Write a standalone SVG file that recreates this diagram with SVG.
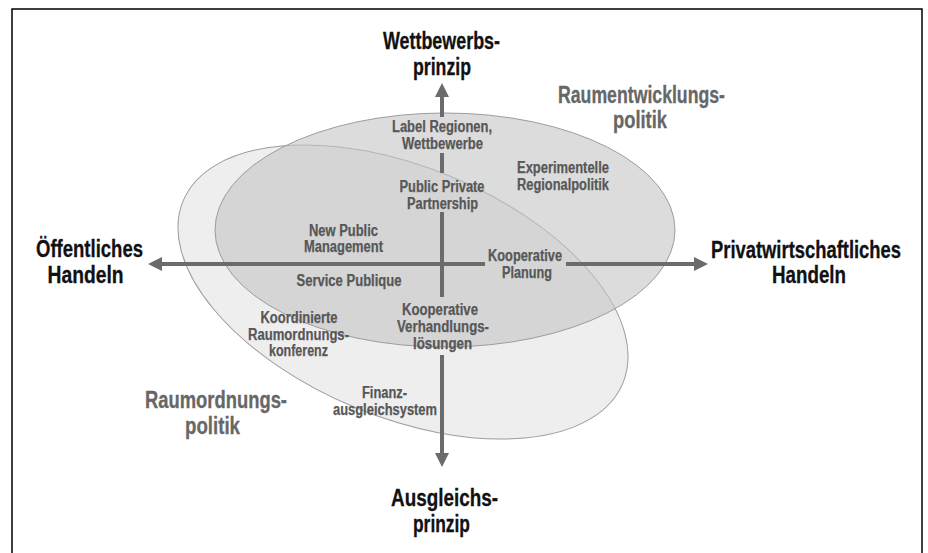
<svg xmlns="http://www.w3.org/2000/svg" width="928" height="553" viewBox="0 0 928 553">
<defs>
<style>
.frame{fill:#ffffff;stroke:#000000;stroke-width:1.5}
.ell{stroke:#9c9c9c;stroke-width:1}
.ax{stroke:#6b6b6b;stroke-width:4;fill:none}
.head{fill:#6b6b6b}
.t{font-family:"Liberation Sans Narrow","Liberation Sans",Arial,sans-serif;font-weight:bold;text-anchor:middle}
.lbl{font-size:16px;fill:#575757;stroke:#575757;stroke-width:0.25}
.big{font-size:23px;fill:#111111;stroke:#111111;stroke-width:0.3}
.pol{font-size:23px;fill:#676767;stroke:#676767;stroke-width:0.3}
</style>
</defs>
<rect class="frame" x="12" y="9" width="910" height="600"/>

<g id="raumordnungspolitik-area">
<ellipse class="ell" cx="403" cy="292" rx="238" ry="125" transform="rotate(22.5 403 292)" fill="#eeeeee"/>
</g>
<g id="raumentwicklungspolitik-area">
<ellipse class="ell" cx="445" cy="230" rx="230" ry="117" fill="#c4c4c4" fill-opacity="0.6"/>
</g>

<g id="connectors">
<path class="ax" d="M442 97V117M442 153V173M442 212V297M442 355V453"/>
<path class="ax" d="M162 264H485M566 264H694"/>
<polygon class="head" points="442,83 435,97 449,97"/>
<polygon class="head" points="442,467 435,453 449,453"/>
<polygon class="head" points="148,264 162,257 162,271"/>
<polygon class="head" points="708,264 694,257 694,271"/>
</g>

<g id="wettbewerbsprinzip" class="t big">
<text x="441.5" y="49" textLength="117" lengthAdjust="spacingAndGlyphs">Wettbewerbs-</text>
<text x="442" y="75" textLength="58" lengthAdjust="spacingAndGlyphs">prinzip</text>
</g>
<g id="ausgleichsprinzip" class="t big">
<text x="444.5" y="506" textLength="107" lengthAdjust="spacingAndGlyphs">Ausgleichs-</text>
<text x="441.5" y="532" textLength="57" lengthAdjust="spacingAndGlyphs">prinzip</text>
</g>
<g id="oeffentliches-handeln" class="t big">
<text x="89.5" y="257" textLength="107" lengthAdjust="spacingAndGlyphs">Öffentliches</text>
<text x="85.5" y="283" textLength="76" lengthAdjust="spacingAndGlyphs">Handeln</text>
</g>
<g id="privatwirtschaftliches-handeln" class="t big">
<text transform="translate(806 258) scale(0.8 1)" x="0" y="0">Privatwirtschaftliches</text>
<text x="809" y="283" textLength="74" lengthAdjust="spacingAndGlyphs">Handeln</text>
</g>
<g id="raumentwicklungspolitik" class="t pol">
<text x="641.5" y="103" textLength="167" lengthAdjust="spacingAndGlyphs">Raumentwicklungs-</text>
<text x="640" y="128" textLength="54" lengthAdjust="spacingAndGlyphs">politik</text>
</g>
<g id="raumordnungspolitik" class="t pol">
<text x="216" y="408" textLength="142" lengthAdjust="spacingAndGlyphs">Raumordnungs-</text>
<text x="212.5" y="434" textLength="55" lengthAdjust="spacingAndGlyphs">politik</text>
</g>

<g id="label-regionen" class="t lbl">
<text x="442" y="132" textLength="100" lengthAdjust="spacingAndGlyphs">Label Regionen,</text>
<text x="442.5" y="149" textLength="81" lengthAdjust="spacingAndGlyphs">Wettbewerbe</text>
</g>
<g id="public-private-partnership" class="t lbl">
<text x="442" y="191.5" textLength="85" lengthAdjust="spacingAndGlyphs">Public Private</text>
<text x="442.5" y="208.5" textLength="71" lengthAdjust="spacingAndGlyphs">Partnership</text>
</g>
<g id="experimentelle-regionalpolitik" class="t lbl">
<text x="563" y="172.5" textLength="92" lengthAdjust="spacingAndGlyphs">Experimentelle</text>
<text x="563" y="189.5" textLength="92" lengthAdjust="spacingAndGlyphs">Regionalpolitik</text>
</g>
<g id="new-public-management" class="t lbl">
<text x="343.5" y="235.5" textLength="69" lengthAdjust="spacingAndGlyphs">New Public</text>
<text x="343.5" y="252" textLength="79" lengthAdjust="spacingAndGlyphs">Management</text>
</g>
<g id="kooperative-planung" class="t lbl">
<text x="525" y="260.5" textLength="74" lengthAdjust="spacingAndGlyphs">Kooperative</text>
<text x="527" y="277.5" textLength="50" lengthAdjust="spacingAndGlyphs">Planung</text>
</g>
<g id="service-publique" class="t lbl">
<text x="349" y="285.5" textLength="105" lengthAdjust="spacingAndGlyphs">Service Publique</text>
</g>
<g id="kooperative-verhandlungsloesungen" class="t lbl">
<text x="440" y="314.5" textLength="76" lengthAdjust="spacingAndGlyphs">Kooperative</text>
<text x="443" y="332" textLength="92" lengthAdjust="spacingAndGlyphs">Verhandlungs-</text>
<text x="442.5" y="348.5" textLength="59" lengthAdjust="spacingAndGlyphs">lösungen</text>
</g>
<g id="koordinierte-raumordnungskonferenz" class="t lbl">
<text x="299" y="322.5" textLength="77" lengthAdjust="spacingAndGlyphs">Koordinierte</text>
<text x="298.5" y="339.5" textLength="101" lengthAdjust="spacingAndGlyphs">Raumordnungs-</text>
<text x="298.5" y="356" textLength="59" lengthAdjust="spacingAndGlyphs">konferenz</text>
</g>
<g id="finanzausgleichsystem" class="t lbl">
<text x="384.5" y="398" textLength="45" lengthAdjust="spacingAndGlyphs">Finanz-</text>
<text x="385" y="415" textLength="104" lengthAdjust="spacingAndGlyphs">ausgleichsystem</text>
</g>
</svg>
